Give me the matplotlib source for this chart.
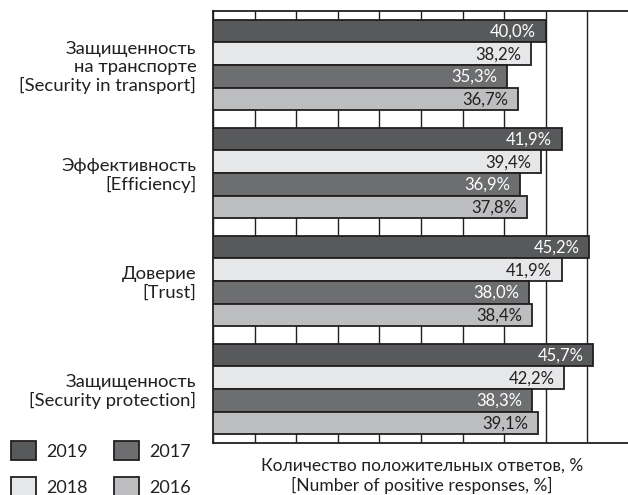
import matplotlib
matplotlib.use('Agg')
import matplotlib.pyplot as plt
import numpy as np
from matplotlib.patches import Patch

plt.rcParams['font.family'] = ['Lato', 'Open Sans', 'DejaVu Sans']

categories = ['Защищенность\nна транспорте\n[Security in transport]',
              'Эффективность\n[Efficiency]',
              'Доверие\n[Trust]',
              'Защищенность\n[Security protection]']
years = ['2019', '2018', '2017', '2016']
v2019 = [40.0, 41.9, 45.2, 45.7]
v2018 = [38.2, 39.4, 41.9, 42.2]
v2017 = [35.3, 36.9, 38.0, 38.3]
v2016 = [36.7, 37.8, 38.4, 39.1]

colors = ['#58595b', '#e6e7e8', '#6d6e70', '#bcbec0']
text_colors = ['white', '#231f20', 'white', '#231f20']
edge = '#231f20'

fig = plt.figure(figsize=(6.28, 4.95), dpi=100)
ax = fig.add_axes([213/628, 52/495, 416/628, 432/495])

y = np.arange(len(categories))
h = 0.21
series = [v2019, v2018, v2017, v2016]
for i, vals in enumerate(series):
    pos = y + (i - 1.5) * h
    bars = ax.barh(pos, vals, height=h, color=colors[i], edgecolor=edge,
                   linewidth=1.3, zorder=3)
    for b, v in zip(bars, vals):
        ax.annotate(f'{v:.1f}%'.replace('.', ','),
                    xy=(b.get_width(), b.get_y() + b.get_height() / 2),
                    xytext=(-7, -0.5), textcoords='offset points',
                    ha='right', va='center', fontsize=12,
                    color=text_colors[i], zorder=4)

ax.set_xlim(0, 50)
ax.set_ylim(3.5, -0.5)
ax.set_xticks(np.arange(0, 51, 5))
ax.set_xticklabels([])
ax.set_yticks(y)
ax.set_yticklabels(categories, fontsize=13.3, ha='right', multialignment='right',
                   linespacing=1.17, color='#231f20')
ax.tick_params(length=0, pad=12)
ax.grid(axis='x', color='#231f20', linewidth=1.0, zorder=0)
for s in ax.spines.values():
    s.set_color('#231f20')
    s.set_linewidth(1.3)

fig.text(422/628, 1 - 476/495, 'Количество положительных ответов, %\n[Number of positive responses, %]',
         ha='center', va='center', fontsize=12.5, color='#231f20', linespacing=1.2)

handles = [Patch(facecolor=c, edgecolor=edge, linewidth=1.3) for c in colors]
fig.legend(handles, years, ncol=2, loc='upper left', bbox_to_anchor=(11/628, 1 - 441/495),
           frameon=False, fontsize=13, handlelength=1.4, handleheight=1.25,
           columnspacing=1.45, labelspacing=0.95, handletextpad=0.55,
           borderaxespad=0, borderpad=0, labelcolor='#231f20')

fig.savefig('out.png', dpi=100)
